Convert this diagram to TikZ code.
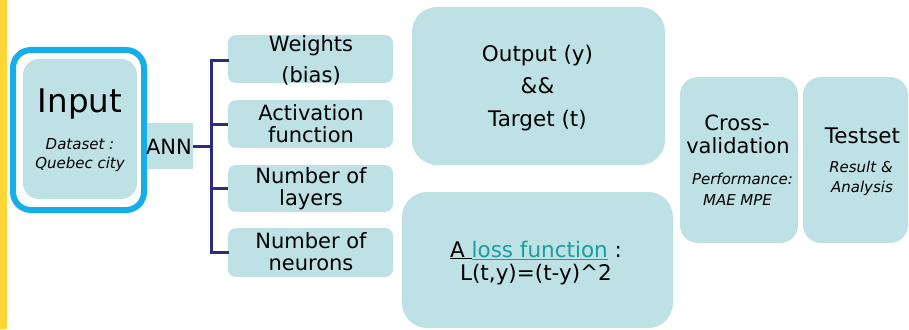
\documentclass[tikz,border=0pt]{standalone}
\usepackage{fontspec}
\setmainfont{DejaVu Sans}
\definecolor{boxfill}{RGB}{189,225,228}
\definecolor{ringblue}{RGB}{22,174,232}
\definecolor{barYellow}{RGB}{255,214,51}
\definecolor{navy}{RGB}{44,44,124}
\definecolor{linkteal}{RGB}{24,158,158}
\begin{document}
\begin{tikzpicture}[x=1pt,y=-1pt,
  tbox/.style={fill=boxfill,draw=none,rounded corners=#1},
  tbox/.default=8pt,
  txt/.style={anchor=base,inner sep=0pt,font=\fontsize{21}{24}\selectfont},
  bigtxt/.style={anchor=base,inner sep=0pt,font=\fontsize{#1}{#1}\selectfont},
  subtxt/.style={anchor=base,inner sep=0pt,font=\fontsize{15}{17}\selectfont\itshape},
  brace/.style={draw=navy,line width=3pt}]
\useasboundingbox (0,0) rectangle (909,329);
% yellow bar
\fill[barYellow] (0,0) rectangle (7,329);
% Input
\draw[ringblue,line width=6pt,fill=white,rounded corners=18pt] (13,50) rectangle (144,210);
\fill[tbox=16pt] (23,59) rectangle (137,199);
\node[bigtxt=32.5] (inp) at (80,112) {Input};
\node[subtxt] (ds1) at (80,149) {Dataset :};
\node[subtxt] (ds2) at (80,168) {Quebec city};
% ANN
\node[fill=boxfill,minimum width=46pt,minimum height=46pt,inner sep=0pt] (annbox) at (170,146) {};
\node[bigtxt=21] (ann) at (169,154) {ANN};
% small boxes
\node[tbox,minimum width=165pt,minimum height=48pt,inner sep=0pt] (wb) at (310.5,59) {};
\node[tbox,minimum width=165pt,minimum height=48pt,inner sep=0pt] (af) at (310.5,124) {};
\node[tbox,minimum width=165pt,minimum height=47pt,inner sep=0pt] (nl) at (310.5,188.5) {};
\node[tbox,minimum width=165pt,minimum height=49pt,inner sep=0pt] (nn) at (310.5,252.5) {};
\node[txt] (wb1) at (311,52) {Weights};
\node[txt] (wb2) at (311,82) {(bias)};
\node[txt] (af1) at (311,120) {Activation};
\node[txt] (af2) at (311,142) {function};
\node[txt] (nl1) at (311,183) {Number of};
\node[txt] (nl2) at (311,205) {layers};
\node[txt] (nn1) at (311,248) {Number of};
\node[txt] (nn2) at (311,270) {neurons};
% bracket
\coordinate (bt) at (211,60);
\coordinate (bb) at (211,252);
\coordinate (bm) at (211,146);
\draw[brace,line cap=rect] (wb.west |- bt) -- (bt) -- (bb) -- (nn.west |- bb);
\draw[brace] (bt |- af.west) -- (af.west);
\draw[brace] (bt |- nl.west) -- (nl.west);
\draw[brace] (annbox.east) -- (bm);
% output box
\node[tbox=25pt,minimum width=253pt,minimum height=158pt,inner sep=0pt] (outb) at (538.5,86) {};
\node[txt,font=\fontsize{21.5}{24}\selectfont] (o1) at (537.5,62) {Output (y)};
\node[txt,font=\fontsize{21.5}{24}\selectfont] (o2) at (537.5,93) {\&\&};
\node[txt,font=\fontsize{21.5}{24}\selectfont] (o3) at (537.5,126) {Target (t)};
% loss box
\node[tbox=25pt,minimum width=271pt,minimum height=136pt,inner sep=0pt] (lossb) at (537.5,260) {};
\node[txt,font=\fontsize{21.5}{24}\selectfont] (l1) at (536,257) {\underline{A }\textcolor{linkteal}{\underline{loss function}} :};
\node[txt,font=\fontsize{21.5}{24}\selectfont] (l2) at (536,280) {L(t,y)=(t-y)\^{}2};
% cross-validation
\node[tbox=18pt,minimum width=118pt,minimum height=166pt,inner sep=0pt] (cvb) at (739,160) {};
\node[txt] (cv1) at (737,130) {Cross-};
\node[txt] (cv2) at (738,153) {validation};
\node[subtxt] (cv3) at (742.5,184) {Performance:};
\node[subtxt] (cv4) at (737.5,205) {MAE MPE};
% testset
\node[tbox=18pt,minimum width=105pt,minimum height=166pt,inner sep=0pt] (tsb) at (855.5,160) {};
\node[bigtxt=21.5] (ts1) at (862.5,143) {Testset};
\node[subtxt] (ts2) at (861,172) {Result \&};
\node[subtxt] (ts3) at (862,192) {Analysis};
\end{tikzpicture}
\end{document}
